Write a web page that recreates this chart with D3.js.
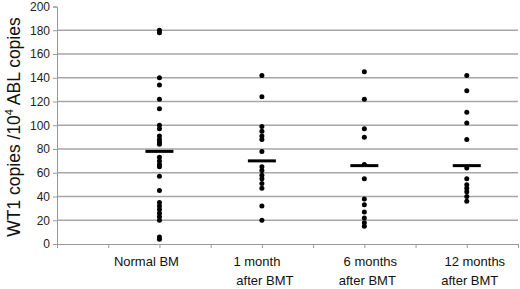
<!DOCTYPE html>
<html><head><meta charset="utf-8">
<script src="https://cdn.jsdelivr.net/npm/d3@7"></script>
<style>body{margin:0;background:#fff;}svg{display:block;font-family:"Liberation Sans",Arial,sans-serif;}</style>
</head><body><svg id="c" width="520" height="289"></svg>
<script>
const categories = ["Normal BM", "1 month|after BMT", "6 months|after BMT", "12 months|after BMT"];
const categoryX = [2, 4, 6, 8];
const normalBM = [180, 178, 140, 134, 122, 114, 100, 97, 91, 88, 86, 84, 73, 70, 67, 65, 57, 45, 35, 32, 29, 26, 23, 20, 6, 4];
const month1 = [142, 124, 99, 95, 91, 88, 78, 65, 62, 58, 55, 51, 47, 32, 20];
const month6 = [145, 122, 97, 90, 67, 55, 38, 33, 27, 22, 18, 15];
const month12 = [142, 129, 111, 102, 88, 64, 55, 50, 47, 44, 40, 36];
const means = [78, 70, 66, 66];
const yTicks = [0, 20, 40, 60, 80, 100, 120, 140, 160, 180, 200];
const series = [normalBM, month1, month6, month12];

const svg = d3.select("#c");
const x = d3.scaleLinear().domain([0, 9]).range([57, 518]);
const y = d3.scaleLinear().domain([0, 200]).range([244, 6.5]);

// gridlines
svg.append("g").selectAll("line").data(yTicks.filter(d => d > 0 && d < 200)).join("line")
  .attr("x1", x(0)).attr("x2", x(9)).attr("y1", d => y(d)).attr("y2", d => y(d))
  .attr("stroke", "#a6a6a6").attr("stroke-width", 1.3);

// y axis
const ya = svg.append("g").attr("transform", `translate(${x(0)},0)`)
  .call(d3.axisLeft(y).tickValues(yTicks).tickSize(4).tickPadding(3));
ya.select(".domain").attr("stroke", "#999");
ya.selectAll(".tick line").attr("stroke", "#999");
ya.selectAll("text").attr("font-size", 12).attr("fill", "#222").attr("font-family", "Liberation Sans, Arial, sans-serif");

// x axis
const xa = svg.append("g").attr("transform", `translate(0,${y(0)})`)
  .call(d3.axisBottom(x).tickValues(d3.range(0, 10)).tickSize(4).tickFormat(""));
xa.select(".domain").attr("stroke", "#999");
xa.selectAll(".tick line").attr("stroke", "#999");

// category labels
const lab = svg.append("g").selectAll("text").data(categories).join("text")
  .attr("text-anchor", "middle").attr("font-size", 13).attr("fill", "#111");
lab.each(function(d, i) {
  const parts = d.split("|");
  const t = d3.select(this);
  const cx = x(categoryX[i]) - (i === 0 ? 13 : 0);
  parts.forEach((p, j) => {
    t.append("tspan").attr("x", cx + (j === 1 ? [0, 3, 3, 3][i] : [0, -5, 6, 8][i])).attr("y", 266 + j * 19).text(p);
  });
});

// dots
series.forEach((vals, i) => {
  svg.append("g").selectAll("circle").data(vals).join("circle")
    .attr("cx", x(categoryX[i])).attr("cy", d => y(d)).attr("r", 2.5).attr("fill", "#000");
});

// means
svg.append("g").selectAll("line").data(means).join("line")
  .attr("x1", (d, i) => x(categoryX[i]) - 14).attr("x2", (d, i) => x(categoryX[i]) + 14)
  .attr("y1", d => y(d)).attr("y2", d => y(d))
  .attr("stroke", "#000").attr("stroke-width", 3);

// y title
svg.append("text").attr("transform", "translate(20,127) rotate(-90)")
  .attr("text-anchor", "middle").attr("font-size", 17.5).attr("fill", "#111")
  .html('WT1 copies /10<tspan dy="-7" font-size="11">4</tspan><tspan dy="7"> ABL copies</tspan>');
</script></body></html>
